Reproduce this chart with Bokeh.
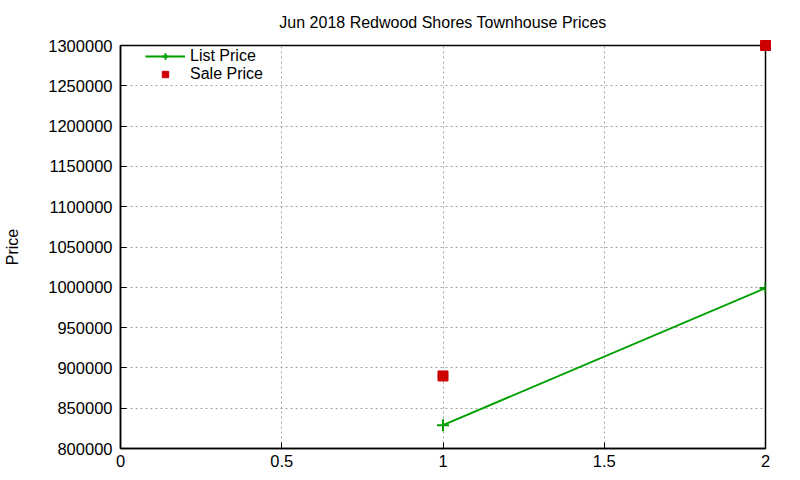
from bokeh.embed import file_html
from bokeh.resources import INLINE
from bokeh.plotting import figure
from bokeh.models import ColumnDataSource, FixedTicker, Legend, LegendItem, NumeralTickFormatter

# data
list_x = [1, 2]
list_price = [829000, 999000]
sale_x = [1, 2]
sale_price = [890000, 1300000]

x_ticks = [0, 0.5, 1, 1.5, 2]
y_ticks = list(range(800000, 1300001, 50000))

FONT = "Liberation Sans"
GREEN = "#00a000"
RED = "#cc0000"

p = figure(width=800, height=480, output_backend="svg", toolbar_location=None,
           x_range=(0, 2), y_range=(800000, 1300000),
           min_border_left=120, min_border_right=35, min_border_top=45, min_border_bottom=32)

p.title.text = "Jun 2018 Redwood Shores Townhouse Prices"
p.title.align = "center"
p.title.vertical_align = "top"
p.title.text_font = FONT
p.title.text_font_size = "16px"
p.title.text_font_style = "normal"
p.title.text_color = "#000000"
p.title.standoff = 26

list_src = ColumnDataSource(dict(x=list_x, y=list_price))
sale_src = ColumnDataSource(dict(x=sale_x, y=sale_price))

l1 = p.line("x", "y", source=list_src, color=GREEN, line_width=2)
m1 = p.scatter("x", "y", source=list_src, marker="cross", size=12, line_color=GREEN, line_width=2)
s1 = p.scatter("x", "y", source=sale_src, marker="square", size=10, fill_color=RED, line_color=RED,
               level="overlay")

for ax in (p.xaxis[0], p.yaxis[0]):
    ax.major_label_text_font = FONT
    ax.major_label_text_font_size = "16.5px"
    ax.major_label_text_color = "#000000"
    ax.axis_line_width = 1.5
    ax.major_tick_in = 6
    ax.major_tick_out = 0
    ax.minor_tick_out = 0
    ax.minor_tick_in = 0

p.xaxis.ticker = FixedTicker(ticks=x_ticks)
p.xaxis.major_label_standoff = 6
p.yaxis.ticker = FixedTicker(ticks=y_ticks)
p.yaxis.formatter = NumeralTickFormatter(format="0")
p.yaxis.major_label_standoff = 8
p.yaxis.axis_label = "Price"
p.yaxis.axis_label_text_font = FONT
p.yaxis.axis_label_text_font_size = "16px"
p.yaxis.axis_label_text_font_style = "normal"
p.yaxis.axis_label_text_color = "#000000"
p.yaxis.axis_label_standoff = 24

p.grid.grid_line_color = "#a0a0a0"
p.grid.grid_line_dash = "2 3"
p.xgrid.ticker = FixedTicker(ticks=x_ticks)
p.ygrid.ticker = FixedTicker(ticks=y_ticks)
p.outline_line_color = "#000000"
p.outline_line_width = 1.5

legend = Legend(items=[LegendItem(label="List Price", renderers=[l1, m1]),
                       LegendItem(label="Sale Price", renderers=[s1])],
                location=(25, 365), border_line_color=None, background_fill_alpha=0,
                label_text_font=FONT, label_text_font_size="16px", label_text_color="#000000",
                glyph_width=40, glyph_height=16, label_height=16,
                spacing=0, padding=2, margin=0)
p.add_layout(legend)

open("out.html", "w").write(file_html(p, INLINE))
